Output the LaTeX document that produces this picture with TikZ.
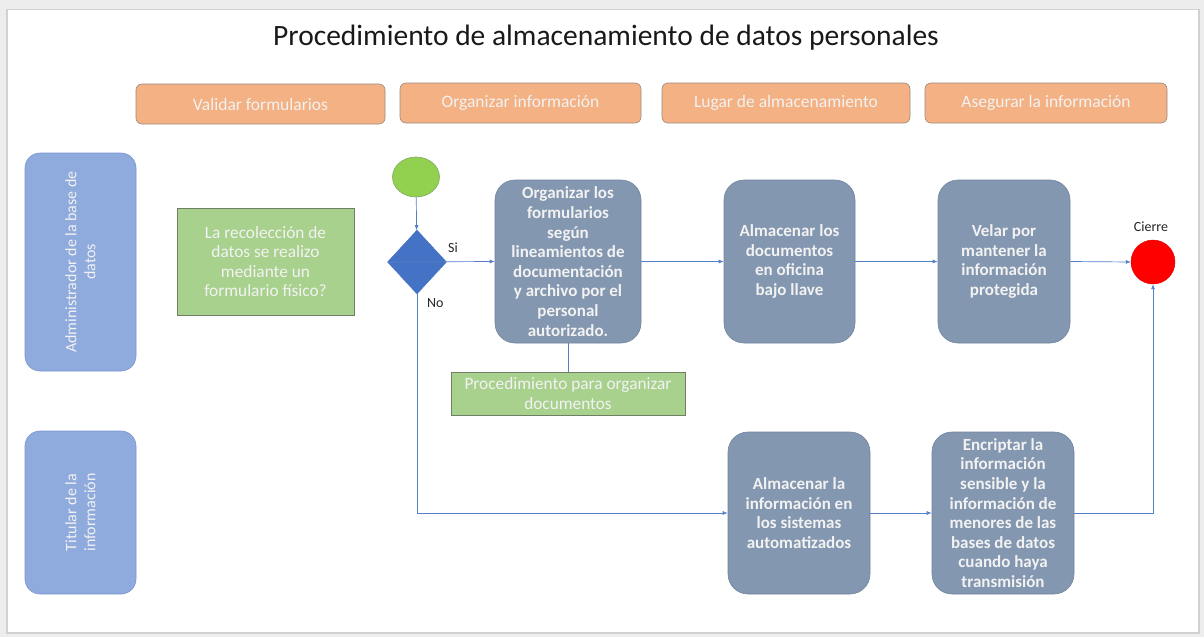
\documentclass[tikz,border=0pt]{standalone}
\usepackage{fontspec}
\setmainfont{Carlito}
\usetikzlibrary{shapes.geometric,arrows.meta}
\definecolor{pagebg}{HTML}{EDEDED}
\definecolor{orangefill}{HTML}{F4B183}
\definecolor{orangeline}{HTML}{9A8A80}
\definecolor{lanefill}{HTML}{8FAADC}
\definecolor{laneline}{HTML}{7A96CC}
\definecolor{greenfill}{HTML}{A9D18E}
\definecolor{greenline}{HTML}{6F7F66}
\definecolor{stepfill}{HTML}{8497B0}
\definecolor{stepline}{HTML}{72859F}
\definecolor{startfill}{HTML}{92D050}
\definecolor{startline}{HTML}{7FA860}
\definecolor{diafill}{HTML}{4472C4}
\definecolor{conn}{HTML}{5580C8}
\definecolor{lighttext}{HTML}{F2F2F2}
\begin{document}
\begin{tikzpicture}[x=1pt,y=-1pt,
  header/.style={draw=orangeline, fill=orangefill, rounded corners=6pt, line width=0.6pt,
    text=lighttext, font=\fontsize{17.5}{20}\selectfont, inner sep=0pt},
  lane/.style={draw=laneline, fill=lanefill, rounded corners=15pt, line width=0.6pt,
    text=lighttext, font=\fontsize{16}{19}\selectfont, align=center, inner sep=0pt, rotate=90},
  note/.style={draw=greenline, fill=greenfill, line width=0.6pt, text=lighttext,
    font=\fontsize{17.3}{19.5}\selectfont, align=center, inner sep=0pt},
  stepbox/.style={draw=stepline, fill=stepfill, rounded corners=20pt, line width=0.6pt,
    text=lighttext, font=\fontsize{17}{19.6}\selectfont\bfseries, align=center, inner sep=0pt},
  conline/.style={draw=conn, line width=0.7pt},
  arr/.style={conline, -{Latex[length=5pt,width=4pt]}},
  small/.style={font=\fontsize{14}{16}\selectfont, text=black!85, inner sep=0pt}
]
\useasboundingbox (0,0) rectangle (1204,637);
\fill[pagebg] (0,0) rectangle (1204,637);
\fill[black!18] (6,9) rectangle (1200,634);
\fill[white] (8,10) rectangle (1198,632);

\node[font=\fontsize{29.5}{34}\selectfont, text=black!90] (title) at (606,38) {Procedimiento de almacenamiento de datos personales};

\node[header, minimum width=249pt, minimum height=40pt] (h1) at (260.5,104) {Validar formularios};
\node[header, minimum width=241pt, minimum height=40pt] (h2) at (520.5,103) {Organizar información};
\node[header, minimum width=248pt, minimum height=40pt] (h3) at (786,103) {Lugar de almacenamiento};
\node[header, minimum width=242pt, minimum height=40pt] (h4) at (1046,103) {Asegurar la información};

\node[lane, minimum width=218pt, minimum height=111pt] (l1) at (80.5,262) {Administrador de la base de\\datos};
\node[lane, minimum width=163pt, minimum height=111pt] (l2) at (80.5,512.5) {Titular de la\\información};

\node[note, minimum width=177pt, minimum height=107pt] (q) at (265.5,261.5) {La recolección de\\datos se realizo\\mediante un\\formulario físico?};

\node[ellipse, draw=startline, fill=startfill, line width=0.6pt, minimum width=47pt, minimum height=40pt, inner sep=0pt] (start) at (416,177) {};
\node[diamond, draw=diafill, fill=diafill, minimum width=59pt, minimum height=64pt, inner sep=0pt] (dia) at (417,262) {};
\node[small, anchor=west] (si) at (448,248) {Si};
\node[small, anchor=west] (no) at (427,303) {No};

\node[stepbox, minimum width=146pt, minimum height=163pt] (org) at (568,261.5) {Organizar los\\formularios\\según\\lineamientos de\\documentación\\y archivo por el\\personal\\autorizado.};
\node[note, minimum width=234pt, minimum height=43pt] (proc) at (568,393.5) {Procedimiento para organizar\\documentos};
\node[stepbox, minimum width=131pt, minimum height=163pt] (alm1) at (789.5,261.5) {Almacenar los\\documentos\\en oficina\\bajo llave};
\node[stepbox, minimum width=132pt, minimum height=163pt] (vel) at (1004,261.5) {Velar por\\mantener la\\información\\protegida};
\node[circle, draw=red!85!black, fill=red, minimum size=44pt, inner sep=0pt] (fin) at (1153,262) {};
\node[small] (cierre) at (1151,227) {Cierre};

\node[stepbox, minimum width=142pt, minimum height=162pt] (alm2) at (799,513) {Almacenar la\\información en\\los sistemas\\automatizados};
\node[stepbox, minimum width=142pt, minimum height=162pt] (enc) at (1003,513) {Encriptar la\\información\\sensible y la\\información de\\menores de las\\bases de datos\\cuando haya\\transmisión};

\draw[arr] (start) -- (dia);
\draw[arr] (dia.west) -- (org.west);
\draw[conline] (org.south) -- (proc.north);
\draw[arr] (org.east) -- (alm1.west);
\draw[arr] (alm1.east) -- (vel.west);
\draw[arr] (vel.east) -- (fin.west);
\draw[arr] (dia.south) |- (alm2.west);
\draw[arr] (alm2.east) -- (enc.west);
\draw[arr] (enc.east) -| (fin.south);
\end{tikzpicture}
\end{document}
